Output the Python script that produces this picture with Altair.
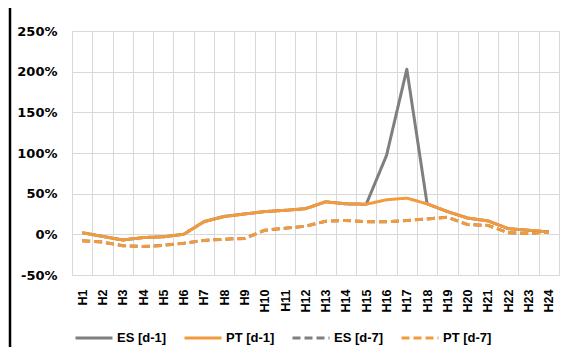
import altair as alt
import pandas as pd

hours = [f"H{i}" for i in range(1, 25)]
series_names = ["ES [d-1]", "PT [d-1]", "ES [d-7]", "PT [d-7]"]

es_d1 = [2, -2.5, -7, -4, -3, 0, 15.5, 22, 25, 28, 29.5, 31.5, 40, 37.5, 37, 97, 203, 37.5, 28, 20, 16.5, 7, 5, 3]
pt_d1 = [2, -2.5, -7, -4, -3, 0, 15.5, 22, 25, 28, 29.5, 31.5, 40, 37.5, 37, 42.5, 44.5, 37.5, 28, 20, 16.5, 7, 5, 3]
es_d7 = [-8, -9.5, -14, -15, -13.5, -11, -7.5, -6, -5, 5, 7.5, 10, 16, 17, 15.5, 15.5, 17, 19, 21, 12, 11, 2, 1, 3]
pt_d7 = [-8, -9.5, -14, -15, -13.5, -11, -7.5, -6, -5, 5, 7.5, 10, 16, 17, 15.5, 15.5, 17, 19, 21, 12, 11, 2, 1, 3]

colors = ["#7F7F7F", "#F39A3C", "#7F7F7F", "#F39A3C"]
dashes = [[1, 0], [1, 0], [8, 4], [8, 4]]

rows = []
for name, vals in zip(series_names, [es_d1, pt_d1, es_d7, pt_d7]):
    for h, v in zip(hours, vals):
        rows.append({"hour": h, "value": v, "series": name})
df = pd.DataFrame(rows)

legend_opts = dict(title=None, orient="none", legendX=2, legendY=287,
                   direction="horizontal", columns=4, columnPadding=11,
                   symbolType="stroke", symbolSize=1369, symbolStrokeWidth=3,
                   labelFont="Liberation Sans", labelFontWeight="bold",
                   labelFontSize=13, labelColor="#000000", labelOffset=3)

lines = alt.Chart(df).mark_line(strokeWidth=3, strokeJoin="round").encode(
    x=alt.X("hour:N", sort=hours, bandPosition=0.5,
            scale=alt.Scale(type="band", paddingInner=0, paddingOuter=0),
            axis=alt.Axis(title=None, tickBand="extent", ticks=False, domain=False,
                          grid=True, gridColor="#D9D9D9", gridWidth=1,
                          labelAngle=270, labelFont="Liberation Sans", labelFontWeight="bold",
                          labelFontSize=12.5, labelColor="#000000", labelPadding=14)),
    y=alt.Y("value:Q",
            scale=alt.Scale(domain=[-50, 250], nice=False),
            axis=alt.Axis(title=None, values=[-50, 0, 50, 100, 150, 200, 250],
                          labelExpr="datum.value + '%'", ticks=False, domain=False,
                          grid=True, gridColor="#D9D9D9", gridWidth=1,
                          labelFont="DejaVu Sans", labelFontWeight="bold", labelFontSize=13,
                          labelColor="#000000", labelPadding=15)),
    color=alt.Color("series:N", sort=series_names,
                    scale=alt.Scale(domain=series_names, range=colors),
                    legend=alt.Legend(**legend_opts)),
    strokeDash=alt.StrokeDash("series:N", sort=series_names,
                              scale=alt.Scale(domain=series_names, range=dashes),
                              legend=alt.Legend(**legend_opts)),
)

border = alt.Chart(pd.DataFrame({"a": [0]})).mark_rule(color="#000000", strokeWidth=2.5).encode(
    x=alt.value(-62), y=alt.value(-23), y2=alt.value(330)
)

chart = alt.layer(lines, border).properties(
    width=487, height=244,
    padding={"left": 64, "top": 23, "right": 5, "bottom": 80},
    autosize=alt.AutoSizeParams(type="none"),
).configure_view(stroke="#D9D9D9", strokeWidth=1).configure(background="#FFFFFF")

chart.save("out.html", embed_options={"renderer": "svg", "actions": False})
